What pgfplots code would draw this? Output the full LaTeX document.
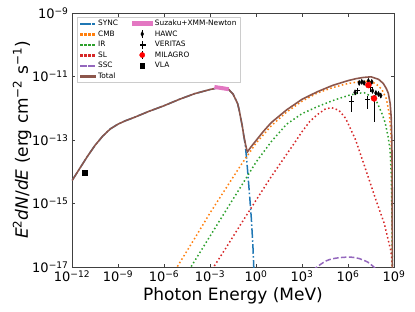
\documentclass[border=0pt]{standalone}
\usepackage{fontspec}
\setmainfont{DejaVu Sans}
\usepackage{pgfplots}
\pgfplotsset{compat=1.18}
\definecolor{cblue}{HTML}{1F77B4}
\definecolor{corange}{HTML}{FF7F0E}
\definecolor{cgreen}{HTML}{2CA02C}
\definecolor{cred}{HTML}{D62728}
\definecolor{cpurple}{HTML}{9467BD}
\definecolor{cbrown}{HTML}{8C564B}
\definecolor{cpink}{HTML}{E377C2}
\definecolor{cframe}{HTML}{CCCCCC}
\newcommand{\tp}[1]{10\textsuperscript{#1}}
\newcommand{\dotleg}[1]{\fill[#1] (0pt,-0.75pt) rectangle (1.5pt,0.75pt);\fill[#1] (4pt,-0.75pt) rectangle (5.5pt,0.75pt);\fill[#1] (8pt,-0.75pt) rectangle (9.5pt,0.75pt);\fill[#1] (12pt,-0.75pt) rectangle (13.5pt,0.75pt);}
\tikzset{
  syncst/.style={draw=cblue, color=cblue, line width=1.5pt, dash pattern=on 9.6pt off 2.4pt on 1.5pt off 2.4pt},
  cmbst/.style={draw=corange, color=corange, line width=1.5pt, dash pattern=on 1.5pt off 2.5pt},
  irst/.style={draw=cgreen, color=cgreen, line width=1.5pt, dash pattern=on 1.5pt off 2.5pt},
  slst/.style={draw=cred, color=cred, line width=1.5pt, dash pattern=on 1.5pt off 2.5pt},
  sscst/.style={draw=cpurple, color=cpurple, line width=1.5pt, dash pattern=on 5.5pt off 2.4pt},
  totst/.style={draw=cbrown, color=cbrown, line width=1.6pt, solid},
}
\begin{document}
\begin{tikzpicture}
\begin{axis}[
  at={(0,0)}, anchor=south west,
  scale only axis, width=322pt, height=254pt,
  xmode=log, ymode=log,
  xmin=1e-12, xmax=1e9, ymin=1e-17, ymax=1e-9,
  xtick={1e-12,1e-9,1e-6,1e-3,1,1e3,1e6,1e9},
  xticklabels={\tp{−12},\tp{−9},\tp{−6},\tp{−3},\tp{0},\tp{3},\tp{6},\tp{9}},
  ytick={1e-17,1e-15,1e-13,1e-11,1e-9},
  yticklabels={\tp{−17},\tp{−15},\tp{−13},\tp{−11},\tp{−9}},
  xminorticks=false, yminorticks=false,
  tick align=inside, major tick length=3.5pt,
  tick style={black!75, line width=0.8pt},
  axis line style={black!75, line width=0.8pt},
  ticklabel style={font=\fontsize{13}{15}\selectfont},
  xlabel={Photon Energy (MeV)},
  ylabel={\textit{E}\textsuperscript{2}\textit{dN}/\textit{dE} (erg cm\textsuperscript{−2} s\textsuperscript{−1})},
  label style={font=\fontsize{17}{20}\selectfont},
  xlabel style={at={(axis description cs:0.5,-0.13)}, anchor=base},
  ylabel style={at={(axis description cs:-0.137,0.5)}, anchor=base, rotate=0},
  legend columns=2,
  legend cell align=left,
  legend image code/.code={\draw[#1] (0pt,0pt) -- (15pt,0pt);},
  legend style={at={(0.0155,0.985)}, anchor=north west, draw=cframe, fill=white,
    font=\fontsize{7.4}{8.5}\selectfont, inner xsep=3pt, inner ysep=2pt, row sep=1.5pt,
    nodes={inner sep=1pt, text height=5.5pt, text depth=1.5pt},
    /tikz/every odd column/.append style={column sep=1.5pt},
    /tikz/every even column/.append style={column sep=13pt}},
]
% legend (column order as in reference)
\addlegendimage{legend image code/.code={\fill[cblue] (0pt,-0.75pt) rectangle (9.6pt,0.75pt);\fill[cblue] (12pt,-0.75pt) rectangle (13.5pt,0.75pt);}}\addlegendentry{SYNC}
\addlegendimage{legend image code/.code={\fill[cpink] (0pt,-2pt) rectangle (20pt,2pt);}}\addlegendentry{Suzaku+XMM-Newton}
\addlegendimage{legend image code/.code={\dotleg{corange}}}\addlegendentry{CMB}
\addlegendimage{legend image code/.code={\fill[black] (9.6pt,-3.5pt) rectangle (10.4pt,3.5pt); \path[draw=black, fill=black] plot[mark=diamond*, mark size=2.6pt, mark options={xscale=0.7}] coordinates {(10pt,0pt)};}}\addlegendentry{HAWC}
\addlegendimage{legend image code/.code={\dotleg{cgreen}}}\addlegendentry{IR}
\addlegendimage{legend image code/.code={\fill[black] (9.6pt,-3.5pt) rectangle (10.4pt,3.5pt); \fill[black] (7.5pt,-0.4pt) rectangle (12.5pt,0.4pt);}}\addlegendentry{VERITAS}
\addlegendimage{legend image code/.code={\dotleg{cred}}}\addlegendentry{SL}
\addlegendimage{legend image code/.code={\fill[black] (9.6pt,-3.5pt) rectangle (10.4pt,3.5pt); \fill[red] (10pt,0pt) circle (2.6pt);}}\addlegendentry{MILAGRO}
\addlegendimage{legend image code/.code={\fill[cpurple] (0pt,-0.75pt) rectangle (5.5pt,0.75pt);\fill[cpurple] (7.9pt,-0.75pt) rectangle (13.4pt,0.75pt);}}\addlegendentry{SSC}
\addlegendimage{legend image code/.code={\fill[black] (7.6pt,-2.4pt) rectangle (12.4pt,2.4pt);}}\addlegendentry{VLA}
\addlegendimage{legend image code/.code={\fill[cbrown] (0pt,-0.8pt) rectangle (15pt,0.8pt);}}\addlegendentry{Total}
\addlegendimage{empty legend}\addlegendentry{}

% SYNC
\addplot[syncst, forget plot] coordinates {(1e-12,5.25e-15)(3.16e-12,1.26e-14)(1e-11,3.02e-14)(3.16e-11,6.76e-14)(1e-10,1.32e-13)(3.16e-10,2.24e-13)(1e-9,3.16e-13)(3.16e-9,4.07e-13)(1e-8,5.01e-13)(1e-7,7.94e-13)(1e-6,1.20e-12)(1e-5,1.91e-12)(1e-4,2.88e-12)(1e-3,3.89e-12)(3.16e-3,4.37e-12)(7.94e-3,4.47e-12)(1.58e-2,3.98e-12)(3.16e-2,2.82e-12)(6.31e-2,1.41e-12)(7.94e-2,8.91e-13)(0.1,5.01e-13)(0.126,2.82e-13)(0.158,1.41e-13)(0.2,6.92e-14)(0.251,2.24e-14)(0.316,5.62e-15)(0.398,1.41e-15)(0.501,3.16e-16)(0.631,4.47e-17)(0.759,5.01e-18)};
% CMB
\addplot[cmbst, forget plot] coordinates {(3.98e-6,6.31e-18)(1e-4,7.94e-17)(1e-3,5.01e-16)(1e-2,2.82e-15)(0.1,1.58e-14)(1,7.94e-14)(10,2.82e-13)(100,7.59e-13)(1e3,1.66e-12)(1e4,3.02e-12)(1e5,4.47e-12)(1e6,6.03e-12)(6.31e6,6.92e-12)(2e7,7.08e-12)(6.31e7,6.03e-12)(1.58e8,3.98e-12)(3.16e8,2e-12)(5.01e8,6.31e-13)(6.31e8,1.58e-13)(7.24e8,1e-14)(7.76e8,1e-18)};
% IR
\addplot[irst, forget plot] coordinates {(3.16e-5,6.31e-18)(1e-3,9.33e-17)(1e-2,5.62e-16)(0.1,3.31e-15)(1,2e-14)(10,8.91e-14)(100,3.16e-13)(1e3,6.76e-13)(1e4,1.12e-12)(1e5,1.74e-12)(1e6,2.51e-12)(3.98e6,2.95e-12)(1.12e7,3.09e-12)(3.16e7,2.4e-12)(7.94e7,1.51e-12)(1.58e8,7.08e-13)(2.63e8,3.55e-13)(3.98e8,1.41e-13)(5.5e8,5.01e-14)(6.61e8,7.94e-15)(7.41e8,3.16e-16)(7.94e8,3.16e-18)};
% SL
\addplot[slst, forget plot] coordinates {(1e-3,6.61e-18)(1e-2,3.72e-17)(0.1,2.19e-16)(1,1.26e-15)(10,7.08e-15)(100,3.55e-14)(316,7.94e-14)(1e3,1.82e-13)(3.16e3,3.80e-13)(1e4,6.31e-13)(3.16e4,9.33e-13)(7.94e4,1.05e-12)(2.51e5,8.71e-13)(7.08e5,4.79e-13)(3.16e6,1e-13)(1.45e7,1.15e-14)(6.61e7,1.29e-15)(2.29e8,2.40e-16)(6.31e8,3.16e-17)(8.91e8,6.31e-18)};
% SSC
\addplot[sscst, smooth, forget plot] coordinates {(5.01e3,7.94e-18)(1.58e4,1.20e-17)(3.98e4,1.58e-17)(1e5,1.82e-17)(3.98e5,2.0e-17)(1.58e6,2.04e-17)(5.01e6,1.86e-17)(2e7,1.41e-17)(6.31e7,8.91e-18)};
% Total
\addplot[totst, forget plot] coordinates {(1e-12,5.25e-15)(3.16e-12,1.26e-14)(1e-11,3.02e-14)(3.16e-11,6.76e-14)(1e-10,1.32e-13)(3.16e-10,2.24e-13)(1e-9,3.16e-13)(3.16e-9,4.07e-13)(1e-8,5.01e-13)(1e-7,7.94e-13)(1e-6,1.20e-12)(1e-5,1.91e-12)(1e-4,2.88e-12)(1e-3,3.89e-12)(3.16e-3,4.37e-12)(7.94e-3,4.47e-12)(1.58e-2,3.98e-12)(3.16e-2,2.82e-12)(6.31e-2,1.41e-12)(7.94e-2,8.91e-13)(0.1,5.01e-13)(0.126,2.82e-13)(0.158,1.41e-13)(0.2,7.94e-14)(0.251,4.79e-14)(0.282,4.27e-14)(0.355,5.01e-14)(0.501,6.31e-14)(1,9.55e-14)(3.16,1.91e-13)(10,3.55e-13)(100,8.91e-13)(1e3,1.91e-12)(1e4,3.31e-12)(1e5,5.25e-12)(1e6,7.41e-12)(3.16e6,8.51e-12)(1e7,9.33e-12)(3.16e7,9.77e-12)(1e8,8.13e-12)(2e8,6.03e-12)(3.16e8,4.17e-12)(4.27e8,2.95e-12)(5.62e8,1.41e-12)(6.61e8,5.01e-13)(7.24e8,1e-13)(7.59e8,1e-14)(7.94e8,1e-18)};
% Suzaku+XMM-Newton
\addplot[draw=cpink, line width=4pt, forget plot] coordinates {(1.95e-3,4.68e-12)(1.66e-2,3.98e-12)};
% VERITAS
\addplot[black, only marks, mark=+, mark size=2.6pt, mark options={line width=1pt}, forget plot,
  error bars/.cd, y dir=both, y explicit, error mark=none, error bar style={line width=1pt}]
  table[x=x, y=y, y error plus=ep, y error minus=em] {
x y ep em
1.78e6 1.62e-12 0.89e-12 0.83e-12
4.17e6 3.55e-12 0.90e-12 0.80e-12
1.86e7 1.82e-12 0.70e-12 0.90e-12
2.82e7 4.47e-12 1.00e-12 1.20e-12
};
% HAWC
\addplot[black, only marks, mark=diamond*, mark size=2.6pt, mark options={xscale=0.7}, forget plot,
  error bars/.cd, y dir=both, y explicit, error mark=none, error bar style={line width=1pt}]
  table[x=x, y=y, y error plus=ep, y error minus=em] {
x y ep em
2.88e6 3.16e-12 0.50e-12 0.45e-12
5.37e6 6.31e-12 0.90e-12 0.80e-12
7.94e6 6.76e-12 0.90e-12 0.80e-12
1.12e7 6.31e-12 0.90e-12 0.80e-12
2.14e7 7.24e-12 1.00e-12 0.90e-12
3.55e7 6.76e-12 1.00e-12 0.90e-12
3.98e7 3.55e-12 0.60e-12 0.55e-12
6.61e7 3.02e-12 0.50e-12 0.45e-12
9.77e7 2.82e-12 0.50e-12 0.45e-12
1.38e8 2.51e-12 0.45e-12 0.40e-12
};
% MILAGRO
\addplot[red, only marks, mark=*, mark size=3pt, forget plot,
  error bars/.cd, y dir=both, y explicit, error mark=none, error bar style={black, line width=1pt}]
  table[x=x, y=y, y error plus=ep, y error minus=em] {
x y ep em
2.14e7 5.37e-12 1.00e-12 1.00e-12
5.01e7 2.04e-12 0.50e-12 1.66e-12
};
% VLA
\addplot[black, only marks, mark=square*, mark size=2.4pt, forget plot] coordinates {(6.46e-12,9.55e-15)};
\end{axis}
\pgfresetboundingbox
\useasboundingbox (-72pt,-45pt) rectangle (343pt,267pt);
\end{tikzpicture}
\end{document}
